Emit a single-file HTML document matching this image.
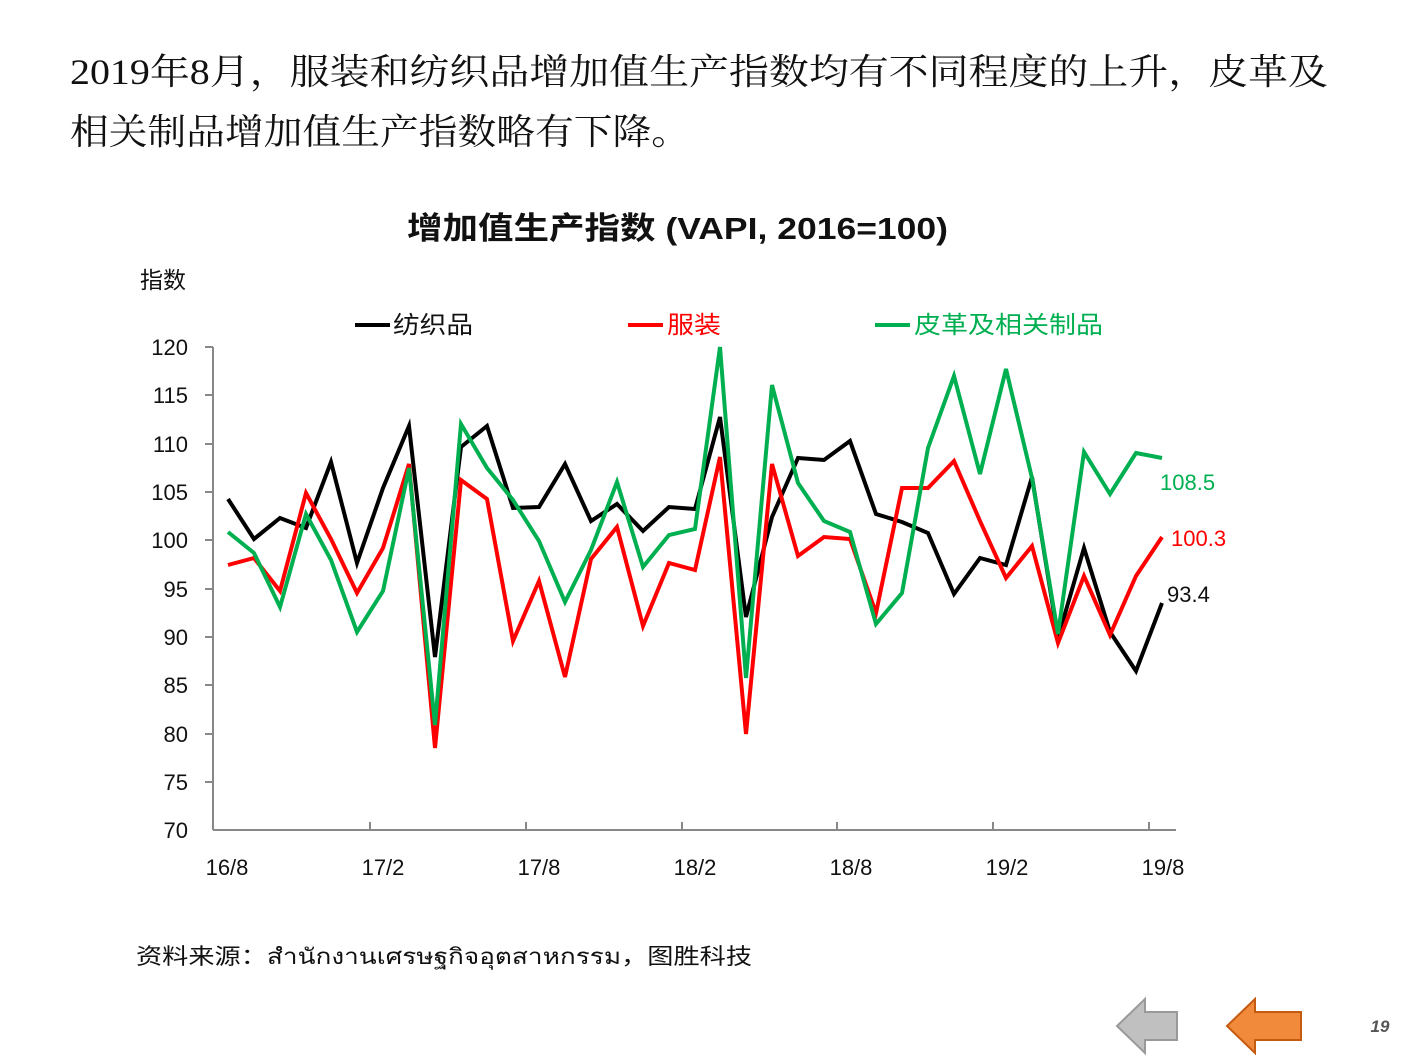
<!DOCTYPE html>
<html><head><meta charset="utf-8"><style>
body{margin:0;background:#fff;width:1411px;height:1058px;overflow:hidden;font-family:"Liberation Sans","Noto Sans CJK SC",sans-serif}
</style></head><body>
<svg width="1411" height="1058" xmlns="http://www.w3.org/2000/svg" font-family="Liberation Sans, Noto Sans CJK SC, sans-serif">
<text x="70" y="84" font-size="36" textLength="1258" lengthAdjust="spacingAndGlyphs" font-family="Liberation Serif, Noto Serif CJK SC, serif" fill="#111">2019年8月，服装和纺织品增加值生产指数均有不同程度的上升，皮革及</text>
<text x="70" y="144" font-size="36" textLength="620" lengthAdjust="spacingAndGlyphs" font-family="Liberation Serif, Noto Serif CJK SC, serif" fill="#111">相关制品增加值生产指数略有下降。</text>
<text x="407" y="239" font-size="31" font-weight="bold" textLength="541" lengthAdjust="spacingAndGlyphs" fill="#111">增加值生产指数 (VAPI, 2016=100)</text>
<text x="140" y="288" font-size="23" fill="#111">指数</text>
<line x1="355" y1="325" x2="390" y2="325" stroke="#000" stroke-width="4"/><text x="393" y="333" font-size="24" textLength="80" lengthAdjust="spacingAndGlyphs" fill="#111">纺织品</text>
<line x1="628" y1="325" x2="663" y2="325" stroke="#f00" stroke-width="4"/><text x="667" y="333" font-size="24" textLength="54" lengthAdjust="spacingAndGlyphs" fill="#f00">服装</text>
<line x1="875" y1="325" x2="910" y2="325" stroke="#00b050" stroke-width="4"/><text x="914" y="333" font-size="24" textLength="189" lengthAdjust="spacingAndGlyphs" fill="#00b050">皮革及相关制品</text>
<g stroke="#888" stroke-width="2">
<line x1="213" y1="347" x2="213" y2="830"/><line x1="213" y1="830" x2="1176" y2="830"/>
<line x1="205" y1="347" x2="213" y2="347"/><line x1="205" y1="395" x2="213" y2="395"/><line x1="205" y1="444" x2="213" y2="444"/><line x1="205" y1="492" x2="213" y2="492"/><line x1="205" y1="540" x2="213" y2="540"/><line x1="205" y1="589" x2="213" y2="589"/><line x1="205" y1="637" x2="213" y2="637"/><line x1="205" y1="685" x2="213" y2="685"/><line x1="205" y1="734" x2="213" y2="734"/><line x1="205" y1="782" x2="213" y2="782"/>
<line x1="370" y1="822" x2="370" y2="830"/><line x1="526" y1="822" x2="526" y2="830"/><line x1="682" y1="822" x2="682" y2="830"/><line x1="837" y1="822" x2="837" y2="830"/><line x1="993" y1="822" x2="993" y2="830"/><line x1="1149" y1="822" x2="1149" y2="830"/>
</g>
<g font-size="22" fill="#111" text-anchor="end">
<text x="188" y="355">120</text><text x="188" y="403">115</text><text x="188" y="452">110</text><text x="188" y="500">105</text><text x="188" y="548">100</text><text x="188" y="597">95</text><text x="188" y="645">90</text><text x="188" y="693">85</text><text x="188" y="742">80</text><text x="188" y="790">75</text><text x="188" y="838">70</text>
</g>
<g font-size="22" fill="#111" text-anchor="middle">
<text x="227" y="875">16/8</text><text x="383" y="875">17/2</text><text x="539" y="875">17/8</text><text x="695" y="875">18/2</text><text x="851" y="875">18/8</text><text x="1007" y="875">19/2</text><text x="1163" y="875">19/8</text>
</g>
<g fill="none" stroke-width="4" stroke-linejoin="miter">
<polyline stroke="#000" points="228,499 254,539 280,518 306,528 331,462 357,563 383,488 409,426 435,657 461,447 487,426 513,508 539,507 565,464 591,521 617,504 643,531 669,507 695,509 720,417 746,617 772,517 798,458 824,460 850,441 876,514 902,522 928,533 954,594 980,558 1006,565 1032,477 1058,638 1084,548 1110,632 1136,671 1162,603"/>
<polyline stroke="#f00" points="228,565 254,558 280,591 306,493 331,539 357,593 383,548 409,464 435,748 461,480 487,499 513,641 539,581 565,677 591,559 617,527 643,626 669,563 695,570 720,457 746,734 772,464 798,556 824,537 850,539 876,613 902,488 928,488 954,461 980,521 1006,578 1032,546 1058,643 1084,576 1110,635 1136,576 1162,537"/>
<polyline stroke="#00b050" points="228,532 254,553 280,607 306,514 331,560 357,632 383,591 409,468 435,725 461,424 487,468 513,500 539,541 565,602 591,550 617,482 643,567 669,535 695,529 720,347 746,678 772,385 798,483 824,521 850,532 876,624 902,593 928,448 954,376 980,474 1006,369 1032,478 1058,634 1084,452 1110,494 1136,453 1162,458"/>
</g>
<text x="1160" y="490" font-size="22" fill="#00b050">108.5</text>
<text x="1171" y="546" font-size="22" fill="#f00">100.3</text>
<text x="1167" y="602" font-size="22" fill="#111">93.4</text>
<text x="136" y="964" font-size="22" textLength="616" lengthAdjust="spacingAndGlyphs" fill="#111">资料来源：สำนักงานเศรษฐกิจอุตสาหกรรม，图胜科技</text>
<polygon points="1117,1026 1145,999 1145,1012 1177,1012 1177,1040 1145,1040 1145,1053" fill="#c0c0c0" stroke="#999" stroke-width="2"/>
<polygon points="1227,1026 1255,999 1255,1012 1301,1012 1301,1040 1255,1040 1255,1053" fill="#f28a3c" stroke="#c55a11" stroke-width="2"/>
<text x="1380" y="1032" font-size="17" font-weight="bold" font-style="italic" fill="#555" text-anchor="middle">19</text>
</svg>
</body></html>
